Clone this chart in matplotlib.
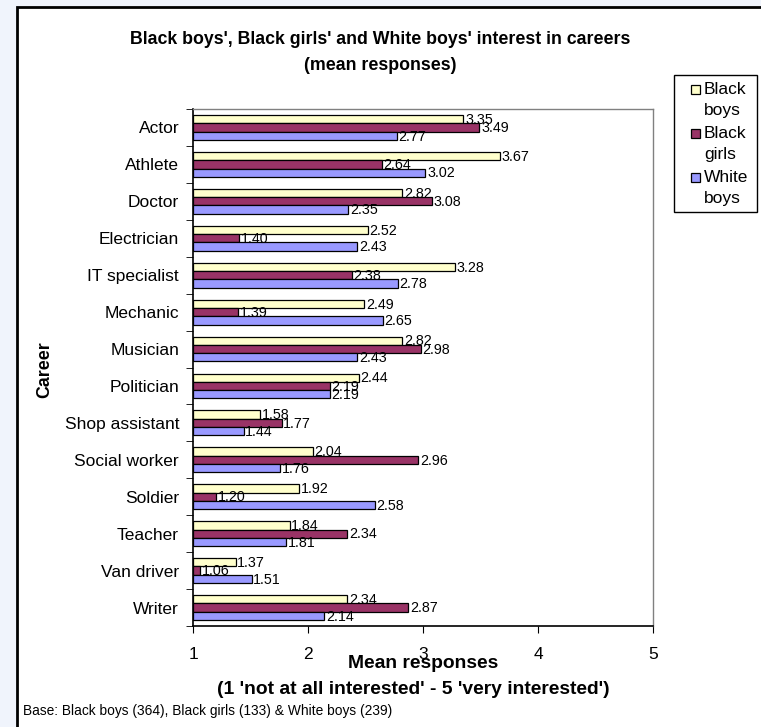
import matplotlib
matplotlib.use("Agg")
import matplotlib.pyplot as plt
import numpy as np
from matplotlib.patches import Rectangle
from matplotlib.ticker import FixedLocator

plt.rcParams['font.family'] = ['Liberation Sans', 'DejaVu Sans']

careers = ["Actor", "Athlete", "Doctor", "Electrician", "IT specialist", "Mechanic",
           "Musician", "Politician", "Shop assistant", "Social worker", "Soldier",
           "Teacher", "Van driver", "Writer"]
black_boys = [3.35, 3.67, 2.82, 2.52, 3.28, 2.49, 2.82, 2.44, 1.58, 2.04, 1.92, 1.84, 1.37, 2.34]
black_girls = [3.49, 2.64, 3.08, 1.40, 2.38, 1.39, 2.98, 2.19, 1.77, 2.96, 1.20, 2.34, 1.06, 2.87]
white_boys = [2.77, 3.02, 2.35, 2.43, 2.78, 2.65, 2.43, 2.19, 1.44, 1.76, 2.58, 1.81, 1.51, 2.14]
series_names = ["Black\nboys", "Black\ngirls", "White\nboys"]
colours = ["#FFFFCC", "#993366", "#9999FF"]

W, H = 761, 727
fig = plt.figure(figsize=(W / 100, H / 100), dpi=100)
fig.patch.set_facecolor("#F0F4FC")


def px(x, y):
    # pixel position (from top-left) -> figure fraction
    return x / W, 1 - y / H


# white chart box with black border (right/bottom run off the image)
fig.patches.append(Rectangle((17 / W, -0.05), 1.1, 1 - 7 / H + 0.05, transform=fig.transFigure,
                             facecolor="white", edgecolor="black", linewidth=2, zorder=-5))

ax = fig.add_axes([193 / W, 1 - 626 / H, (653 - 193) / W, (626 - 109) / H], zorder=2)
ax.set_facecolor("white")

n = len(careers)
y = np.arange(n)
h = 0.225
for i, (vals, col) in enumerate(zip([black_boys, black_girls, white_boys], colours)):
    pos = y + (i - 1) * h
    ax.barh(pos, np.array(vals) - 1, left=1, height=h, color=col, edgecolor="black",
            linewidth=0.9, zorder=2)
    for p, v in zip(pos, vals):
        ax.text(v + 0.015, p + 0.02, f"{v:.2f}", va="center", ha="left", fontsize=10.3, zorder=3)

ax.set_xlim(1, 5)
ax.set_ylim(n - 0.5, -0.5)
ax.set_xticks([1, 2, 3, 4, 5])
ax.set_yticks(y)
ax.set_yticklabels(careers, fontsize=12.5)
ax.yaxis.set_minor_locator(FixedLocator(np.arange(n + 1) - 0.5))
ax.tick_params(axis="y", which="major", length=0, pad=10)
ax.tick_params(axis="y", which="minor", length=5, direction="out")
ax.tick_params(axis="x", length=5, direction="out", labelsize=12.5, pad=10)

for s in ["top", "right"]:
    ax.spines[s].set_color("#808080")
    ax.spines[s].set_linewidth(1)
for s in ["left", "bottom"]:
    ax.spines[s].set_color("black")
    ax.spines[s].set_linewidth(1.2)

fig.text(*px(380, 40), "Black boys', Black girls' and White boys' interest in careers",
         ha="center", va="center", fontsize=12.8, fontweight="bold")
fig.text(*px(380, 66), "(mean responses)", ha="center", va="center",
         fontsize=12.8, fontweight="bold")

fig.text(*px(45, 370), "Career", rotation=90, ha="center", va="center",
         fontsize=12.8, fontweight="bold")
fig.text(*px(423, 663), "Mean responses", ha="center", va="center",
         fontsize=13.9, fontweight="bold")
fig.text(*px(413, 689), "(1 'not at all interested' - 5 'very interested')",
         ha="center", va="center", fontsize=13.9, fontweight="bold")
fig.text(*px(23, 711), "Base: Black boys (364), Black girls (133) & White boys (239)",
         ha="left", va="center", fontsize=9.9)

# legend box, drawn by hand so the key sits on the first text line
lx0, ly0, lx1, ly1 = 674, 75, 757, 212
fig.patches.append(Rectangle(px(lx0, ly1), (lx1 - lx0) / W, (ly1 - ly0) / H,
                             transform=fig.transFigure, facecolor="white",
                             edgecolor="black", linewidth=1, zorder=3))
for i, (name, col) in enumerate(zip(series_names, colours)):
    yc = 89 + i * 44
    fig.patches.append(Rectangle(px(691, yc + 4.5), 9 / W, 9 / H, transform=fig.transFigure,
                                 facecolor=col, edgecolor="black", linewidth=0.9, zorder=4))
    for j, line in enumerate(name.split("\n")):
        fig.text(*px(704, yc + j * 21), line, ha="left", va="center", fontsize=12.5, zorder=4)

fig.savefig("out.png", dpi=100, facecolor=fig.get_facecolor())
